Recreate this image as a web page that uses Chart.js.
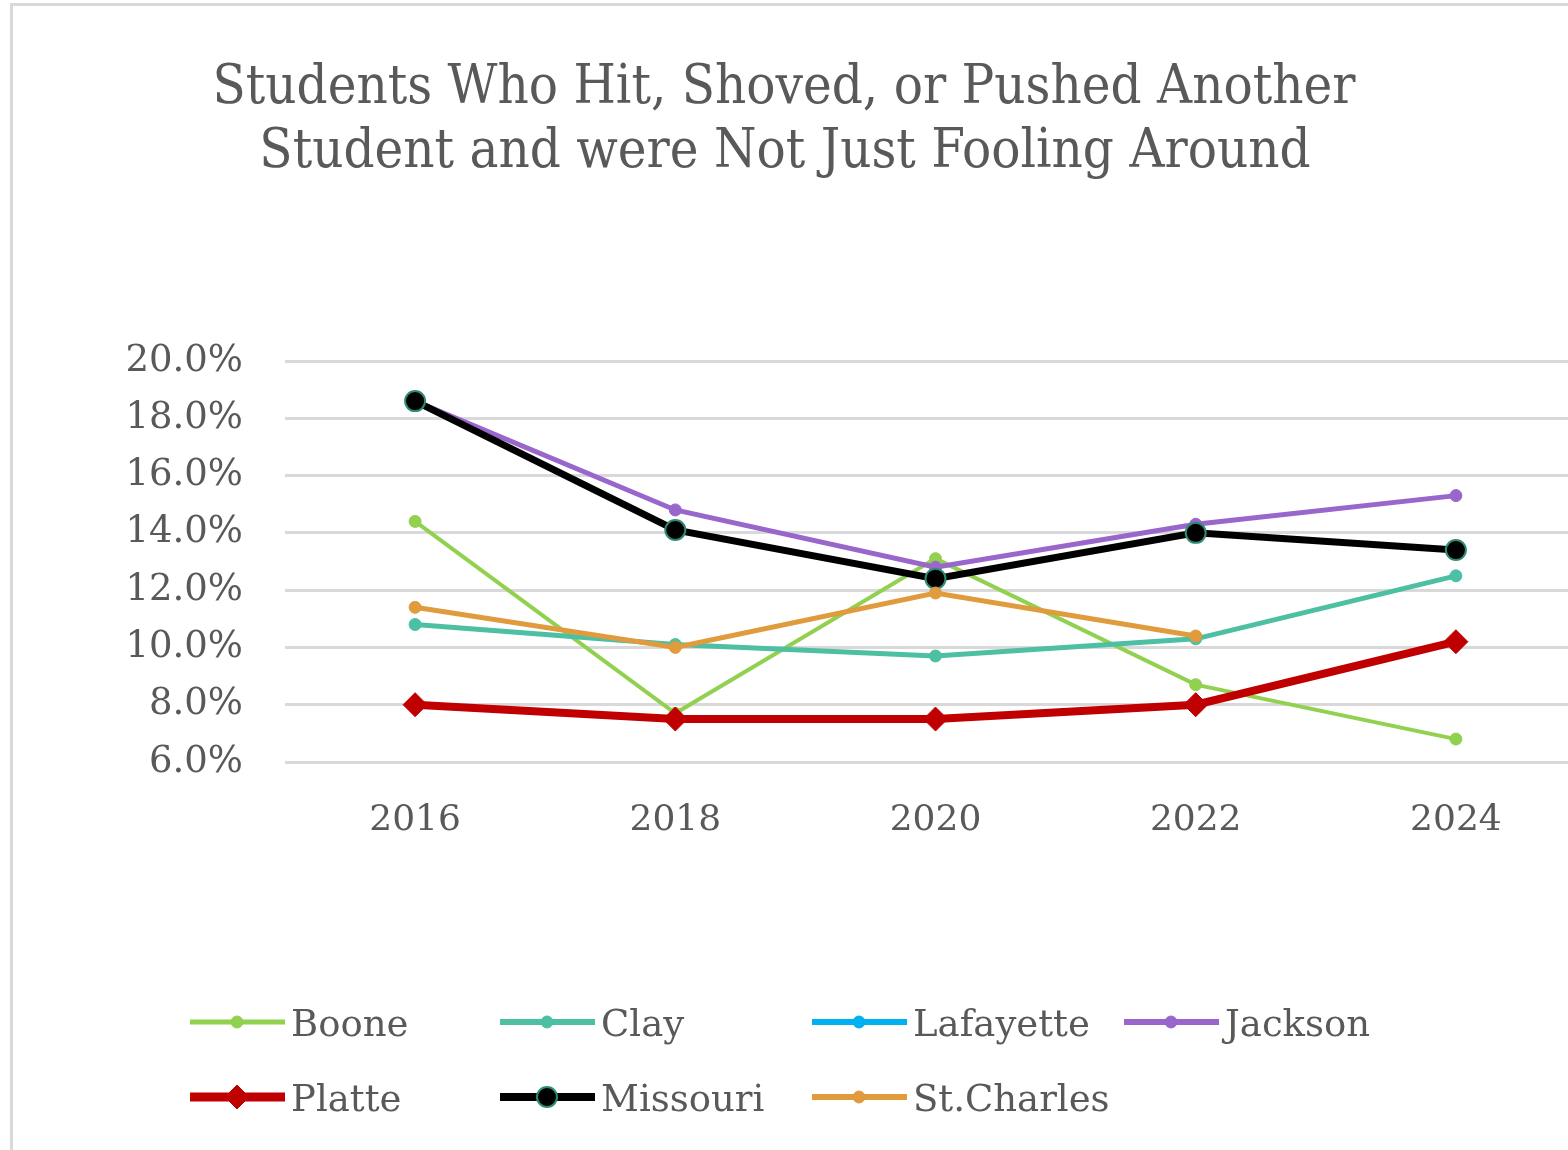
<!DOCTYPE html>
<html>
<head>
<meta charset="utf-8">
<script src="https://cdn.jsdelivr.net/npm/chart.js@4.4.1/dist/chart.umd.min.js"></script>
<style>
html, body { margin: 0; padding: 0; background: #fff; overflow: hidden; }
.frame { position: absolute; left: 10px; top: 3px; width: 1640px; height: 1200px; border: 3px solid #d9d9d9; }
canvas { position: absolute; left: 0; top: 0; }
</style>
</head>
<body>
<div class="frame"><canvas id="chart" width="1600" height="1144"></canvas></div>
<script>
// data (percent)
const years = ['2016', '2018', '2020', '2022', '2024'];
const boone = [14.4, 7.7, 13.1, 8.7, 6.8];
const clay = [10.8, 10.1, 9.7, 10.3, 12.5];
const lafayette = [null, null, null, null, null];
const jackson = [18.6, 14.8, 12.8, 14.3, 15.3];
const platte = [8.0, 7.5, 7.5, 8.0, 10.2];
const missouri = [18.6, 14.1, 12.4, 14.0, 13.4];
const stCharles = [11.4, 10.0, 11.9, 10.4, null];
const yTicks = [6, 8, 10, 12, 14, 16, 18, 20];
const titleLines = ['Students Who Hit, Shoved, or Pushed Another', 'Student and were Not Just Fooling Around'];

const TITLE_FONT = '"DejaVu Serif Condensed", "DejaVu Serif", serif';
const FONT = '"DejaVu Serif", serif';
const GREY = '#595959';

function series(label, data, color, opts) {
    return Object.assign({
        label: label,
        data: data,
        borderColor: color,
        backgroundColor: color,
        pointBackgroundColor: color,
        pointBorderColor: color,
        borderWidth: 5,
        pointRadius: 6,
        pointBorderWidth: 1,
        pointStyle: 'circle',
        tension: 0
    }, opts || {});
}

const datasets = [
    series('Boone', boone, '#92D050', {borderWidth: 4, order: 6}),
    series('Clay', clay, '#4DBFA3', {order: 5}),
    series('Lafayette', lafayette, '#00B0F0', {order: 4}),
    series('Jackson', jackson, '#9966CC', {order: 3}),
    series('Platte', platte, '#C00000', {borderWidth: 8, pointStyle: 'rectRot', pointRadius: 12, order: 2}),
    series('Missouri', missouri, '#000000', {borderWidth: 7, pointRadius: 10, pointBorderWidth: 2, pointBorderColor: '#2E8B76', order: 1}),
    series('St.Charles', stCharles, '#E09B3D', {order: 0})
];

// title centred a little left of the canvas middle, like the original
const offsetTitle = {
    id: 'offsetTitle',
    afterDraw(chart) {
        const ctx = chart.ctx;
        ctx.save();
        ctx.fillStyle = GREY;
        ctx.font = '54px ' + TITLE_FONT;
        ctx.textAlign = 'center';
        ctx.textBaseline = 'alphabetic';
        ctx.fillText(titleLines[0], 771, 97);
        ctx.fillText(titleLines[1], 772, 161);
        ctx.restore();
    }
};

// legend drawn in a 4-column grid like the original
const gridLegend = {
    id: 'gridLegend',
    afterDraw(chart) {
        const ctx = chart.ctx;
        const colX = [177, 487, 799, 1111];
        const rowY = [1016, 1091];
        chart.data.datasets.forEach((ds, i) => {
            const x = colX[i % 4];
            const y = rowY[Math.floor(i / 4)];
            ctx.save();
            ctx.strokeStyle = ds.borderColor;
            ctx.lineWidth = ds.borderWidth + 1;
            ctx.beginPath();
            ctx.moveTo(x, y);
            ctx.lineTo(x + 95, y);
            ctx.stroke();
            ctx.fillStyle = ds.pointBackgroundColor;
            ctx.strokeStyle = ds.pointBorderColor;
            ctx.lineWidth = ds.pointBorderWidth;
            Chart.helpers.drawPoint(ctx, {
                pointStyle: ds.pointStyle,
                radius: ds.pointRadius,
                rotation: 0,
                borderWidth: ds.pointBorderWidth
            }, x + 47, y);
            ctx.fillStyle = GREY;
            ctx.font = '37px ' + FONT;
            ctx.textAlign = 'left';
            ctx.textBaseline = 'alphabetic';
            ctx.fillText(ds.label, x + 101, y + 14);
            ctx.restore();
        });
    }
};

new Chart(document.getElementById('chart'), {
    type: 'line',
    data: {labels: years, datasets: datasets},
    plugins: [offsetTitle, gridLegend],
    options: {
        responsive: false,
        animation: false,
        layout: {padding: {left: 0, right: 27, top: 355, bottom: 288}},
        plugins: {
            legend: {display: false},
            tooltip: {enabled: false},
            title: {display: false}
        },
        scales: {
            x: {
                offset: true,
                grid: {display: false},
                border: {display: false},
                ticks: {color: GREY, font: {family: FONT, size: 36}, padding: 29},
                afterFit(scale) { scale.height = 100; }
            },
            y: {
                min: 6,
                max: 20,
                afterBuildTicks(scale) { scale.ticks = yTicks.map(v => ({value: v})); },
                grid: {color: '#D9D9D9', lineWidth: 3, drawTicks: false},
                border: {display: false},
                ticks: {
                    color: GREY,
                    font: {family: FONT, size: 37},
                    padding: 42,
                    callback: v => v.toFixed(1) + '%'
                },
                afterFit(scale) { scale.width = 272; }
            }
        }
    }
});
</script>
</body>
</html>
